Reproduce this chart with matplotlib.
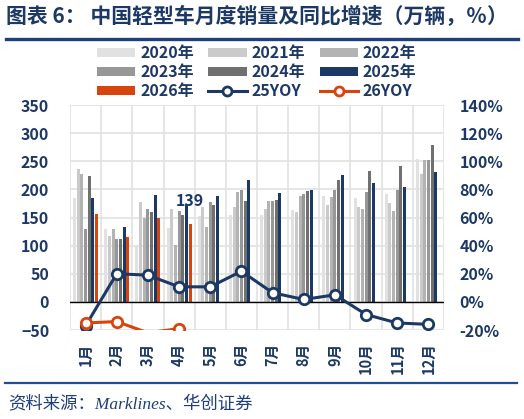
import matplotlib.pyplot as plt
from matplotlib.patches import Patch
from matplotlib.lines import Line2D

plt.rcParams['font.family'] = ['Noto Sans CJK SC', 'DejaVu Sans']

# monthly light-vehicle sales (10k units)
months = ['1月', '2月', '3月', '4月', '5月', '6月', '7月', '8月', '9月', '10月', '11月', '12月']
sales_2020 = [184, 130, 101, 132, 152, 155, 155, 163, 189, 185, 192, 254]
sales_2021 = [237, 117, 177, 166, 168, 168, 165, 159, 173, 169, 176, 227]
sales_2022 = [227, 130, 150, 102, 133, 195, 179, 188, 187, 166, 162, 252]
sales_2023 = [129, 112, 166, 162, 177, 199, 179, 191, 198, 196, 198, 253]
sales_2024 = [224, 111, 160, 155, 172, 179, 181, 197, 217, 233, 242, 278]
sales_2025 = [184, 133, 190, 172, 189, 216, 193, 199, 226, 211, 204, 231]
sales_2026 = [156, 115, 149, 139]
# year-over-year growth (%)
yoy_25 = [-17, 20, 19, 10.7, 10.7, 21.8, 6.5, 1.7, 5, -9, -15, -16]
yoy_26 = [-15, -14, -22, -19]

navy = '#1c3865'
orange = '#d8440e'
grays = ['#e1e1e1', '#cacaca', '#b3b3b3', '#979797', '#707070']

series = [
    ('2020年', sales_2020, grays[0]),
    ('2021年', sales_2021, grays[1]),
    ('2022年', sales_2022, grays[2]),
    ('2023年', sales_2023, grays[3]),
    ('2024年', sales_2024, grays[4]),
    ('2025年', sales_2025, navy),
    ('2026年', sales_2026, orange),
]

fig = plt.figure(figsize=(5.24, 4.19), dpi=100)
ax = fig.add_axes([70 / 524, 1 - 330 / 419, 374 / 524, 225 / 419])

step = 0.118
width = 0.095
for j, (name, vals, col) in enumerate(series):
    xs = [i + (j - 3) * step for i in range(len(vals))]
    ax.bar(xs, vals, width=width, color=col, zorder=2)

ax.text(3 + 3 * step, 165, '139', ha='center', va='bottom', fontsize=11.5,
        fontweight='bold', color=navy, zorder=5)

ax.set_xlim(-0.5, 11.5)
ax.set_ylim(-50, 350)
ax.set_yticks(range(-50, 351, 50))
ax.set_xticks(range(12))
ax.set_xticklabels(months, rotation=90)
ax.set_xticks([i - 0.5 for i in range(13)], minor=True)
ax.grid(True, which='minor', axis='x', color='#e2e2e2', lw=1.2, zorder=0)
ax.grid(True, which='major', axis='y', color='#e2e2e2', lw=1.2, zorder=0)
ax.axhline(0, color='black', lw=1, zorder=3)
for s in ax.spines.values():
    s.set_visible(False)
ax.tick_params(axis='both', which='both', length=0)
ax.tick_params(axis='x', pad=9)
ax.tick_params(axis='y', pad=15)
for lab in ax.get_yticklabels():
    lab.set_color(navy)
    lab.set_fontweight('bold')
    lab.set_fontsize(11.5)
for lab in ax.get_xticklabels():
    lab.set_color(navy)
    lab.set_fontweight('bold')
    lab.set_fontsize(10.5)

ax2 = ax.twinx()
ax2.set_ylim(-20, 140)
ax2.set_yticks(range(-20, 141, 20))
ax2.set_yticklabels([f'{v}%' for v in range(-20, 141, 20)])
for s in ax2.spines.values():
    s.set_visible(False)
ax2.tick_params(axis='y', length=0, pad=11)
for lab in ax2.get_yticklabels():
    lab.set_color(navy)
    lab.set_fontweight('bold')
    lab.set_fontsize(11.5)

ax2.plot(range(12), yoy_25, color=navy, lw=2.2, marker='o', ms=7.5,
         mfc='white', mec=navy, mew=2, zorder=4)
ax2.plot(range(4), yoy_26, color=orange, lw=2.2, marker='o', ms=7.5,
         mfc='white', mec=orange, mew=2, markevery=[0, 1, 3], zorder=4)

# legend, filled column by column
def patch(c):
    return Patch(facecolor=c, edgecolor='none')

h25 = Line2D([], [], color=navy, lw=2.2, marker='o', ms=6.5, mfc='white', mec=navy, mew=2)
h26 = Line2D([], [], color=orange, lw=2.2, marker='o', ms=6.5, mfc='white', mec=orange, mew=2)
handles = [patch(grays[0]), patch(grays[3]), patch(orange),
           patch(grays[1]), patch(grays[4]), h25,
           patch(grays[2]), patch(navy), h26]
labels = ['2020年', '2023年', '2026年', '2021年', '2024年', '25YOY', '2022年', '2025年', '26YOY']
leg = fig.legend(handles, labels, ncol=3, loc='upper left',
                 bbox_to_anchor=(97 / 524, 1 - 45 / 419), frameon=False,
                 borderpad=0, borderaxespad=0, handlelength=2.4, handleheight=0.5,
                 handletextpad=0.3, columnspacing=0.9, labelspacing=0.2,
                 prop={'size': 11.5, 'weight': 'bold'})
for t in leg.get_texts():
    t.set_color(navy)

fig.text(6 / 524, 1 - 17 / 419, '图表 6： 中国轻型车月度销量及同比增速（万辆，％）',
         fontsize=15, fontweight='bold', color=navy, va='center')
fig.add_artist(Line2D([6 / 524, 518 / 524], [1 - 39 / 419] * 2, lw=2.4, color='#1f3f7a'))
fig.add_artist(Line2D([5 / 524, 517 / 524], [1 - 383 / 419] * 2, lw=1.6, color='#1f4f8f'))
fig.text(8 / 524, 1 - 404 / 419, '资料来源：Marklines、华创证券', fontsize=12.5,
         style='italic', color='#1f3f7a', va='center',
         family=['Liberation Serif', 'Noto Sans CJK SC'])

fig.savefig('out.png', dpi=100)
